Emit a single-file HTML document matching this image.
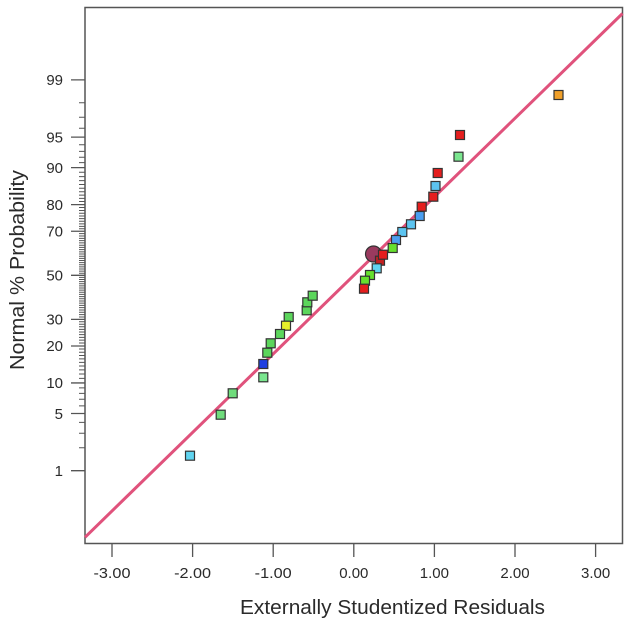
<!DOCTYPE html>
<html><head><meta charset="utf-8"><style>
html,body{margin:0;padding:0;background:#fff;}
svg{display:block;}
text{font-family:"Liberation Sans","DejaVu Sans",sans-serif;fill:#2a2a2a;}
</style></head><body>
<svg width="629" height="625" viewBox="0 0 629 625" xmlns="http://www.w3.org/2000/svg">
<rect x="0" y="0" width="629" height="625" fill="#fff"/>
<!-- minor y ticks -->
<path stroke="#555" stroke-width="1" fill="none" d="
M79 447.81H85M79 433.29H85M79 422.36H85M79 405.9H85M79 399.27H85M79 393.33H85M79 387.93H85
M79 378.33H85M79 374H85M79 369.92H85M79 366.05H85M79 362.36H85M79 358.84H85M79 355.45H85M79 352.19H85M79 349.04H85
M79 343.04H85M79 340.16H85M79 337.36H85M79 334.63H85M79 331.96H85M79 329.34H85M79 326.78H85M79 324.26H85M79 321.79H85
M79 316.96H85M79 314.59H85M79 312.25H85M79 309.95H85M79 307.67H85M79 305.41H85M79 303.18H85M79 300.96H85M79 298.76H85M79 296.58H85
M79 294.41H85M79 292.26H85M79 290.12H85M79 287.98H85M79 285.86H85M79 283.73H85M79 281.63H85M79 279.52H85M79 277.41H85
M79 273.19H85M79 271.08H85M79 268.97H85M79 266.87H85M79 264.74H85M79 262.62H85M79 260.48H85M79 258.34H85M79 256.19H85M79 254.02H85
M79 251.84H85M79 249.64H85M79 247.42H85M79 245.19H85M79 242.93H85M79 240.65H85M79 238.35H85M79 236.01H85M79 233.64H85
M79 228.81H85M79 226.34H85M79 223.82H85M79 221.26H85M79 218.64H85M79 215.97H85M79 213.24H85M79 210.44H85M79 207.56H85
M79 201.56H85M79 198.41H85M79 195.15H85M79 191.76H85M79 188.24H85M79 184.55H85M79 180.68H85M79 176.6H85M79 172.27H85
M79 162.67H85M79 157.27H85M79 151.33H85M79 144.7H85M79 128.24H85M79 117.31H85M79 102.79H85"/>
<!-- major y ticks -->
<path stroke="#555" stroke-width="1.3" fill="none" d="
M71 470.71H85M71 413.47H85M71 382.95H85M71 345.99H85M71 319.35H85M71 275.3H85M71 231.25H85M71 204.61H85M71 167.65H85M71 137.13H85M71 79.89H85"/>
<!-- y tick labels -->
<g font-size="15" text-anchor="end">
<text x="63" y="476">1</text>
<text x="63" y="419">5</text>
<text x="63" y="388">10</text>
<text x="63" y="351">20</text>
<text x="63" y="324.5">30</text>
<text x="63" y="280.5">50</text>
<text x="63" y="236.5">70</text>
<text x="63" y="210">80</text>
<text x="63" y="173">90</text>
<text x="63" y="142.5">95</text>
<text x="63" y="85">99</text>
</g>
<!-- x ticks -->
<path stroke="#555" stroke-width="1.3" fill="none" d="M112 543V557M192.6 543V557M273.2 543V557M353.8 543V557M434.4 543V557M515 543V557M595.6 543V557"/>
<g font-size="15">
<text x="93.5" y="578" textLength="37" lengthAdjust="spacingAndGlyphs">-3.00</text>
<text x="174.1" y="578" textLength="37" lengthAdjust="spacingAndGlyphs">-2.00</text>
<text x="254.7" y="578" textLength="37" lengthAdjust="spacingAndGlyphs">-1.00</text>
</g>
<g font-size="15" text-anchor="middle">
<text x="353.8" y="578">0.00</text>
<text x="434.4" y="578">1.00</text>
<text x="515" y="578">2.00</text>
<text x="595.6" y="578">3.00</text>
</g>
<!-- axis titles -->
<text x="240" y="614" font-size="20" textLength="305" lengthAdjust="spacingAndGlyphs">Externally Studentized Residuals</text>
<text transform="translate(24,270) rotate(-90)" x="0" y="0" font-size="20" text-anchor="middle" textLength="200" lengthAdjust="spacingAndGlyphs">Normal % Probability</text>
<!-- frame -->
<rect x="85" y="7.5" width="537.5" height="536" fill="none" stroke="#555" stroke-width="1.5"/>
<!-- fit line -->
<line x1="85" y1="537.3" x2="622.5" y2="13.5" stroke="#e0527c" stroke-width="3"/>
<!-- points -->
<g stroke="#333" stroke-width="1.2">
<circle cx="373.5" cy="254" r="8" fill="#9a3a5e"/>
<rect x="554" y="90.5" width="9" height="9" fill="#f0a02a"/>
<rect x="455.5" y="130.5" width="9" height="9" fill="#e51e1e"/>
<rect x="454" y="152.2" width="9" height="9" fill="#7ae68f"/>
<rect x="433.2" y="168.5" width="9" height="9" fill="#e51e1e"/>
<rect x="431" y="181.5" width="9" height="9" fill="#5cc4f0"/>
<rect x="428.8" y="192.2" width="9" height="9" fill="#e51e1e"/>
<rect x="417.2" y="202.2" width="9" height="9" fill="#e51e1e"/>
<rect x="415.2" y="211.5" width="9" height="9" fill="#4a9ef0"/>
<rect x="406.5" y="219.8" width="9" height="9" fill="#5cc4f0"/>
<rect x="397.8" y="227.5" width="9" height="9" fill="#5cc4f0"/>
<rect x="391.5" y="235.5" width="9" height="9" fill="#4a9ef0"/>
<rect x="388.2" y="243.5" width="9" height="9" fill="#66e02e"/>
<rect x="375.5" y="256.2" width="9" height="9" fill="#c42020"/>
<rect x="378.5" y="250.2" width="9" height="9" fill="#e51e1e"/>
<rect x="372.2" y="263.8" width="9" height="9" fill="#60d4f0"/>
<rect x="365.5" y="270.5" width="9" height="9" fill="#66e02e"/>
<rect x="360.5" y="276.2" width="9" height="9" fill="#66e02e"/>
<rect x="359.5" y="284.2" width="9" height="9" fill="#e51e1e"/>
<rect x="302.2" y="305.8" width="9" height="9" fill="#5cd65c"/>
<rect x="302.8" y="297.8" width="9" height="9" fill="#5cd65c"/>
<rect x="308.2" y="291.2" width="9" height="9" fill="#5cd65c"/>
<rect x="284.2" y="312.5" width="9" height="9" fill="#5cd65c"/>
<rect x="281.5" y="321.2" width="9" height="9" fill="#e6ef2a"/>
<rect x="275.5" y="329.5" width="9" height="9" fill="#5cd65c"/>
<rect x="266.2" y="338.8" width="9" height="9" fill="#5cd65c"/>
<rect x="262.8" y="348.2" width="9" height="9" fill="#5cd65c"/>
<rect x="258.8" y="359.5" width="9" height="9" fill="#1f3fe0"/>
<rect x="258.8" y="372.8" width="9" height="9" fill="#7ae68f"/>
<rect x="228.2" y="388.8" width="9" height="9" fill="#6fdc7c"/>
<rect x="216.2" y="410.2" width="9" height="9" fill="#6fdc7c"/>
<rect x="185.5" y="451.2" width="9" height="9" fill="#60d4f0"/>
</g>
</svg>
</body></html>
